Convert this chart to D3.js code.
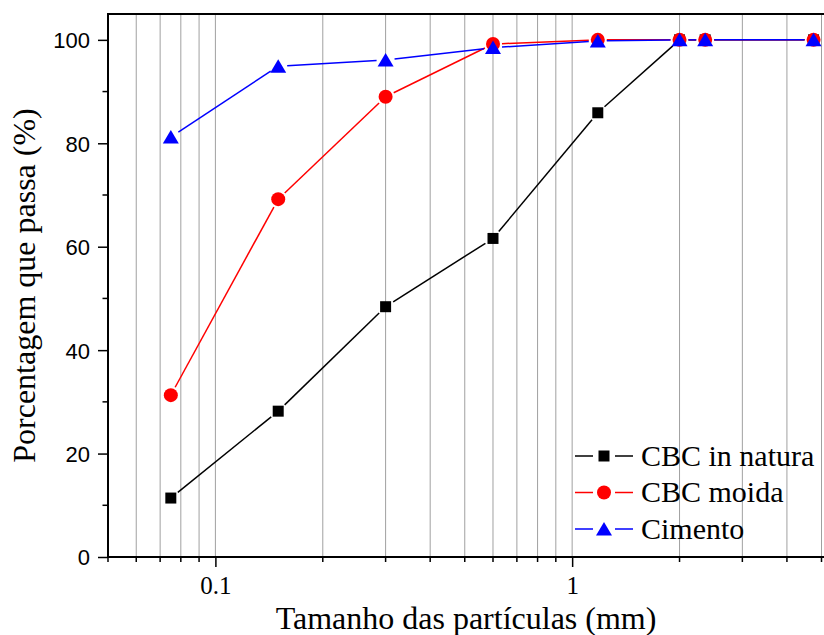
<!DOCTYPE html>
<html lang="en">
<head>
    <meta charset="UTF-8">
    <title>Granulometria</title>
    <script src="https://cdn.jsdelivr.net/npm/d3@7"></script>
    <style>
        body { margin: 0; background: #fff; }
    </style>
</head>
<body>

<div id="fig1"></div>

<script>
    var width = 824;
    var height = 635;

    // peneiras (mm) e porcentagem que passa
    const sizes = [0.075, 0.15, 0.3, 0.6, 1.18, 2, 2.36, 4.75];
    const inNatura = [11.4, 28.2, 48.4, 61.6, 85.9, 100, 100, 100];
    const moida = [31.3, 69.2, 89.0, 99.2, 100, 100, 100, 100];
    const cimento = [81.2, 94.9, 96.1, 98.5, 99.8, 100, 100, 100];

    const seriesNames = ["CBC in natura", "CBC moida", "Cimento"];
    const seriesColors = ["#000000", "#ff0000", "#0000ff"];
    const seriesSymbols = ["square", "circle", "triangle"];
    const seriesValues = [inNatura, moida, cimento];

    const xMajor = [0.1, 1];
    const xMinor = [0.05, 0.06, 0.07, 0.08, 0.09, 0.2, 0.3, 0.4, 0.5, 0.6, 0.7, 0.8, 0.9, 2, 3, 4, 5];
    const yMajor = [0, 20, 40, 60, 80, 100];
    const yMinor = [10, 30, 50, 70, 90];

    var margin = {top: 14, right: 2.5, bottom: 78, left: 108};

    var fig1 = d3.select("#fig1").append("svg")
        .attr("width", width)
        .attr("height", height)
        .attr("viewBox", [0, 0, width, height]);

    var xScale = d3.scaleLog()
        .domain([0.05, 5])
        .range([margin.left, width - margin.right]);
    var yScale = d3.scaleLinear()
        .domain([0, 105])
        .range([height - margin.bottom, margin.top]);

    var serif = "'Liberation Serif', 'Times New Roman', serif";
    var sans = "'Liberation Sans', Arial, sans-serif";

    // grade vertical
    fig1.append("g")
        .selectAll("line")
        .data(xMinor.concat(xMajor).filter(function (d) { return d > 0.05; }))
        .join("line")
        .attr("x1", function (d) { return xScale(d); })
        .attr("x2", function (d) { return xScale(d); })
        .attr("y1", margin.top)
        .attr("y2", height - margin.bottom)
        .attr("stroke", "#a0a0a0")
        .attr("stroke-width", 1);

    // eixo x
    var xAxis = fig1.append("g")
        .attr("transform", "translate(0," + yScale(0) + ")");
    xAxis.call(d3.axisBottom(xScale).tickValues(xMajor).tickSize(10).tickFormat(d3.format("")));
    xAxis.call(function (g) {
        g.append("g").selectAll("line")
            .data(xMinor)
            .join("line")
            .attr("x1", function (d) { return xScale(d); })
            .attr("x2", function (d) { return xScale(d); })
            .attr("y1", 0)
            .attr("y2", 5)
            .attr("stroke", "#000")
            .attr("stroke-width", 1.5);
    });
    xAxis.select(".domain").remove();
    xAxis.selectAll(".tick line").attr("stroke-width", 1.5);
    xAxis.selectAll(".tick text")
        .attr("y", 0)
        .attr("dy", 0)
        .attr("transform", "translate(0,37)")
        .style("font-family", serif)
        .style("font-size", "25px")
        .attr("fill", "#000");

    // eixo y
    var yAxis = fig1.append("g")
        .attr("transform", "translate(" + xScale(0.05) + ",0)");
    yAxis.call(d3.axisLeft(yScale).tickValues(yMajor).tickSize(10));
    yAxis.call(function (g) {
        g.append("g").selectAll("line")
            .data(yMinor)
            .join("line")
            .attr("y1", function (d) { return yScale(d); })
            .attr("y2", function (d) { return yScale(d); })
            .attr("x1", 0)
            .attr("x2", -5.5)
            .attr("stroke", "#000")
            .attr("stroke-width", 1.5);
    });
    yAxis.select(".domain").remove();
    yAxis.selectAll(".tick line").attr("stroke-width", 1.5);
    yAxis.selectAll(".tick text")
        .attr("x", -18)
        .attr("dy", "0.36em")
        .style("font-family", sans)
        .style("font-size", "22px")
        .attr("fill", "#000");

    // moldura: esquerda, baixo e topo
    fig1.append("path")
        .attr("d", "M" + width + "," + margin.top + "H" + xScale(0.05) + "V" + yScale(0) + "H" + width)
        .attr("fill", "none")
        .attr("stroke", "#000")
        .attr("stroke-width", 2);

    // simbolos
    function symbolPath(type) {
        if (type == "square") {
            return "M-5.5,-5.5H5.5V5.5H-5.5Z";
        } else if (type == "circle") {
            return "M7,0A7,7 0 1,1 -7,0A7,7 0 1,1 7,0Z";
        }
        return "M0,-7L8,6.5H-8Z";
    }

    // linhas com espaco perto dos simbolos
    const gap = 9;
    function segments(values) {
        var out = [];
        for (let i = 0; i < sizes.length - 1; i++) {
            var x0 = xScale(sizes[i]), y0 = yScale(values[i]);
            var x1 = xScale(sizes[i + 1]), y1 = yScale(values[i + 1]);
            var len = Math.sqrt((x1 - x0) ** 2 + (y1 - y0) ** 2);
            if (len <= 2 * gap) continue;
            var ux = (x1 - x0) / len, uy = (y1 - y0) / len;
            out.push([x0 + ux * gap, y0 + uy * gap, x1 - ux * gap, y1 - uy * gap]);
        }
        return out;
    }

    for (let s = 0; s < seriesValues.length; s++) {
        var g = fig1.append("g");
        g.selectAll("line")
            .data(segments(seriesValues[s]))
            .join("line")
            .attr("x1", function (d) { return d[0]; })
            .attr("y1", function (d) { return d[1]; })
            .attr("x2", function (d) { return d[2]; })
            .attr("y2", function (d) { return d[3]; })
            .attr("stroke", seriesColors[s])
            .attr("stroke-width", 1.5);
        g.selectAll("path")
            .data(seriesValues[s])
            .join("path")
            .attr("d", symbolPath(seriesSymbols[s]))
            .attr("transform", function (d, i) {
                return "translate(" + xScale(sizes[i]) + "," + yScale(d) + ")";
            })
            .attr("fill", seriesColors[s]);
    }

    // legenda
    var legend = fig1.append("g")
        .attr("transform", "translate(575,456)");
    for (let s = 0; s < seriesNames.length; s++) {
        var row = legend.append("g")
            .attr("transform", "translate(0," + (s * 36.5) + ")");
        row.append("line")
            .attr("x1", 0).attr("x2", 18)
            .attr("stroke", seriesColors[s]).attr("stroke-width", 1.5);
        row.append("line")
            .attr("x1", 40).attr("x2", 58)
            .attr("stroke", seriesColors[s]).attr("stroke-width", 1.5);
        row.append("path")
            .attr("d", symbolPath(seriesSymbols[s]))
            .attr("transform", "translate(29,0)")
            .attr("fill", seriesColors[s]);
        row.append("text")
            .attr("x", 66)
            .attr("y", 9.5)
            .style("font-family", serif)
            .style("font-size", "30px")
            .text(seriesNames[s]);
    }

    // titulos dos eixos
    fig1.append("text")
        .attr("x", (xScale(0.05) + width) / 2)
        .attr("y", 629)
        .attr("text-anchor", "middle")
        .style("font-family", serif)
        .style("font-size", "32px")
        .text("Tamanho das partículas (mm)");

    fig1.append("text")
        .attr("transform", "translate(35," + ((yScale(0) + margin.top) / 2) + ") rotate(-90)")
        .attr("text-anchor", "middle")
        .style("font-family", serif)
        .style("font-size", "32px")
        .text("Porcentagem que passa (%)");
</script>

</body>
</html>
